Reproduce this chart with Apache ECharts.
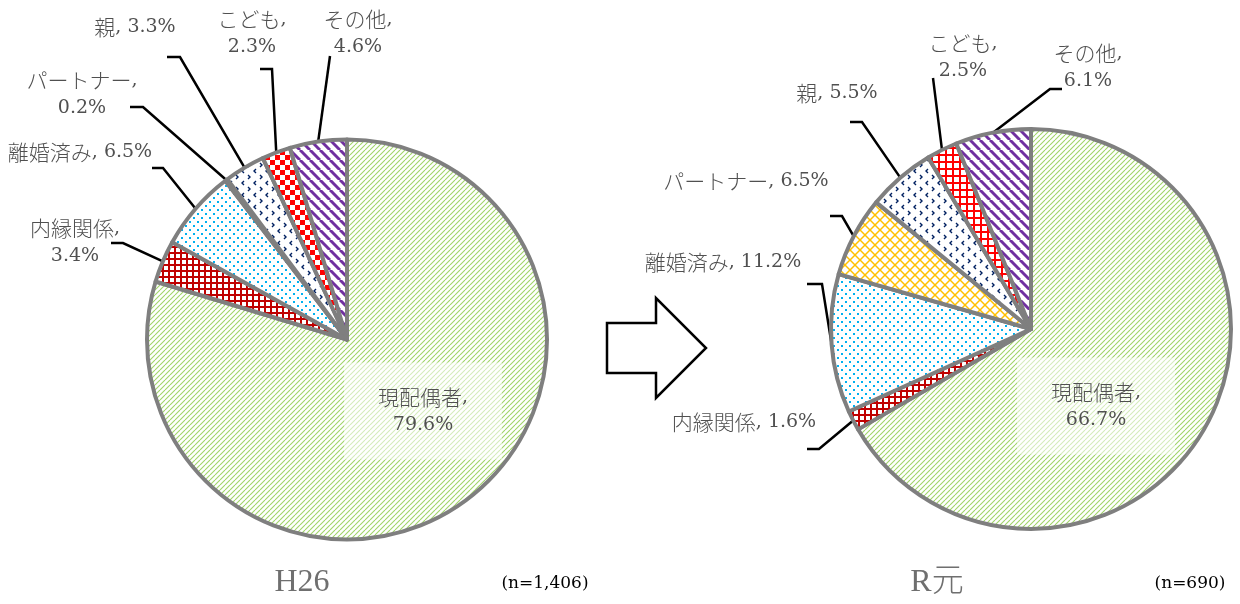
<!DOCTYPE html>
<html>
<head>
<meta charset="utf-8">
<script src="https://cdn.jsdelivr.net/npm/echarts@6/dist/echarts.min.js"></script>
<style>
  html, body { margin: 0; padding: 0; background: #fff; }
  #chart { width: 1240px; height: 604px; }
</style>
</head>
<body>
<div id="chart"></div>
<script>
// ---- data ----
const categories = ['現配偶者', '内縁関係', '離婚済み', 'パートナー', '親', 'こども', 'その他'];
const valuesH26 = [79.6, 3.4, 6.5, 0.2, 3.3, 2.3, 4.6];
const valuesR1 = [66.7, 1.6, 11.2, 6.5, 5.5, 2.5, 6.1];
const periodLabels = ['H26', 'R元'];
const sampleSizes = ['(n=1,406)', '(n=690)'];

// ---- label placement (pixel layout for each slice label) ----
// x/y: label centre, end: where the leader line meets the label, elbow: bend point
const layoutH26 = [
  { x: 423, y: 411, wrap: true },
  { x: 75,  y: 242, wrap: true,  end: [111, 243], elbow: [123, 243] },
  { x: 80,  y: 152, wrap: false, end: [152, 168], elbow: [163, 168] },
  { x: 82,  y: 94,  wrap: true,  end: [130, 107], elbow: [143, 107] },
  { x: 135, y: 27,  wrap: false, end: [167, 57],  elbow: [180, 57] },
  { x: 252, y: 33,  wrap: true,  end: [260, 69],  elbow: [272, 69] },
  { x: 358, y: 33,  wrap: true,  end: [330, 56],  elbow: [330, 56] }
];
const layoutR1 = [
  { x: 1096, y: 406, wrap: true },
  { x: 744,  y: 422, wrap: false, end: [807, 449],  elbow: [819, 449] },
  { x: 723,  y: 262, wrap: false, end: [807, 284],  elbow: [822, 284] },
  { x: 746,  y: 181, wrap: false, end: [830, 216],  elbow: [842, 216] },
  { x: 837,  y: 93,  wrap: false, end: [850, 122],  elbow: [862, 122] },
  { x: 963,  y: 57,  wrap: true,  end: [933, 78],   elbow: [933, 78] },
  { x: 1088, y: 67,  wrap: true,  end: [1062, 89],  elbow: [1050, 89] }
];

const LATIN = '"DejaVu Serif", serif';
const CJK = '"Noto Sans CJK JP", sans-serif';

// ---- fill patterns ----
function tile(size, draw) {
  const c = document.createElement('canvas');
  c.width = c.height = size;
  const g = c.getContext('2d');
  g.fillStyle = '#ffffff';
  g.fillRect(0, 0, size, size);
  draw(g, size);
  return { image: c, repeat: 'repeat' };
}
function diag(g, s, rising) {
  for (const k of [-s, 0, s]) {
    g.beginPath();
    if (rising) { g.moveTo(k, s); g.lineTo(k + s, 0); }
    else { g.moveTo(k, 0); g.lineTo(k + s, s); }
    g.stroke();
  }
}
const greenStripes = tile(5, (g, s) => { g.strokeStyle = '#9fd468'; g.lineWidth = 1.1; diag(g, s, true); });
const darkRedGrid = tile(6, (g, s) => { g.fillStyle = '#c00000'; g.fillRect(0, 0, s, 2); g.fillRect(0, 0, 2, s); });
const brightRedGrid = tile(7, (g, s) => { g.fillStyle = '#ff0000'; g.fillRect(0, 0, s, 2); g.fillRect(0, 0, 2, s); });
const blueDots = tile(8, (g) => { g.fillStyle = '#00b0f0'; g.fillRect(1, 1, 2, 2); g.fillRect(5, 5, 2, 2); });
const yellowLattice = tile(10, (g, s) => { g.strokeStyle = '#ffc000'; g.lineWidth = 1.5; diag(g, s, true); diag(g, s, false); });
const navyChevrons = tile(12, (g) => {
  g.strokeStyle = '#002060'; g.lineWidth = 1.4;
  g.beginPath(); g.moveTo(4, 1); g.lineTo(2, 3); g.lineTo(4, 5); g.stroke();
  g.beginPath(); g.moveTo(8, 7); g.lineTo(10, 9); g.lineTo(8, 11); g.stroke();
});
const redChecker = tile(10, (g) => { g.fillStyle = '#ff0000'; g.fillRect(0, 0, 5, 5); g.fillRect(5, 5, 5, 5); });
const purpleStripes = tile(10, (g, s) => { g.strokeStyle = '#7030a0'; g.lineWidth = 3; diag(g, s, false); });

const fillsH26 = [greenStripes, darkRedGrid, blueDots, yellowLattice, navyChevrons, redChecker, purpleStripes];
const fillsR1 = [greenStripes, darkRedGrid, blueDots, yellowLattice, navyChevrons, brightRedGrid, purpleStripes];

function pieSeries(values, center, fills, layout) {
  return {
    type: 'pie',
    center: center,
    radius: 200,
    startAngle: 90,
    clockwise: true,
    avoidLabelOverlap: false,
    silent: true,
    animation: false,
    itemStyle: { borderColor: '#7f7f7f', borderWidth: 4 },
    label: {
      show: true,
      position: 'outside',
      color: '#505050',
      fontFamily: LATIN,
      fontSize: 19,
      lineHeight: 28,
      formatter: (p) => {
        const pct = p.value.toFixed(1) + '%';
        return '{c|' + p.name + '}{n|,}' + (layout[p.dataIndex].wrap ? '\n{n|' + pct + '}' : '{n| ' + pct + '}');
      },
      rich: {
        c: { fontFamily: CJK, fontSize: 21, fontWeight: 300, lineHeight: 28, color: '#505050' },
        n: { fontFamily: LATIN, fontSize: 19, lineHeight: 28, color: '#505050' }
      }
    },
    labelLine: { show: true, length: 10, length2: 10, lineStyle: { color: '#000', width: 2.5 } },
    labelLayout: (p) => {
      const L = layout[p.dataIndex];
      const out = { x: L.x, y: L.y, align: 'center', verticalAlign: 'middle' };
      if (L.end && p.labelLinePoints) {
        out.labelLinePoints = [p.labelLinePoints[0], L.elbow, L.end];
      }
      return out;
    },
    data: categories.map((name, i) => {
      const item = { name: name, value: values[i], itemStyle: { color: fills[i] } };
      if (i === 0) {
        item.label = {
          backgroundColor: 'rgba(255,255,255,0.55)',
          width: 158,
          padding: [21, 0, 20, 0]
        };
        item.labelLine = { show: false };
      }
      return item;
    })
  };
}

const chart = echarts.init(document.getElementById('chart'), null, { renderer: 'canvas' });
chart.setOption({
  backgroundColor: '#ffffff',
  animation: false,
  series: [
    pieSeries(valuesH26, [347, 339.5], fillsH26, layoutH26),
    pieSeries(valuesR1, [1031, 329], fillsR1, layoutR1)
  ],
  graphic: [
    {
      type: 'polygon',
      shape: { points: [[607, 323], [656, 323], [656, 298], [706, 348], [656, 398], [656, 373], [607, 373]] },
      style: { fill: '#ffffff', stroke: '#000000', lineWidth: 2.5 }
    },
    {
      type: 'text', x: 302, y: 583,
      style: { text: periodLabels[0], fill: '#6f6f6f', font: '32px "Liberation Serif", "Noto Sans CJK JP", serif', align: 'center', verticalAlign: 'middle' }
    },
    {
      type: 'text', x: 545, y: 584,
      style: { text: sampleSizes[0], fill: '#000000', font: '17px ' + LATIN, align: 'center', verticalAlign: 'middle' }
    },
    {
      type: 'text', x: 937, y: 583,
      style: { text: periodLabels[1], fill: '#6f6f6f', font: '300 32px "Liberation Serif", "Noto Sans CJK JP", serif', align: 'center', verticalAlign: 'middle' }
    },
    {
      type: 'text', x: 1190, y: 584,
      style: { text: sampleSizes[1], fill: '#000000', font: '17px ' + LATIN, align: 'center', verticalAlign: 'middle' }
    }
  ]
});
</script>
</body>
</html>
